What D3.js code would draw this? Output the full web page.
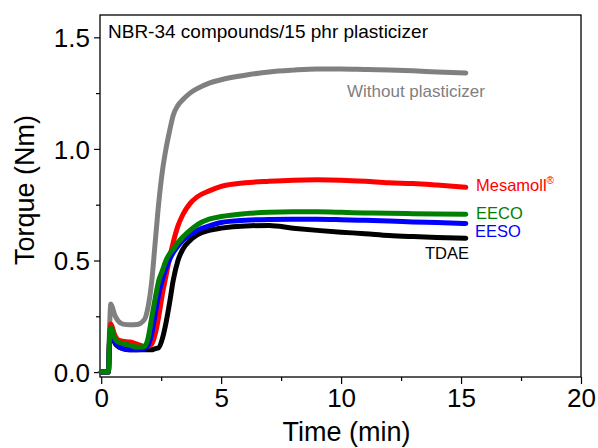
<!DOCTYPE html>
<html>
<head>
<meta charset="utf-8">
<script src="https://cdn.jsdelivr.net/npm/d3@7"></script>
<style>
  body { margin: 0; background: #fff; }
  text { font-family: "Liberation Sans", Arial, sans-serif; }
</style>
</head>
<body>
<svg id="chart" width="598" height="448"></svg>
<script>
// time grid (min) shared by all curves
let times = [0, 0.3, 0.35, 0.4, 0.45, 0.55, 0.7, 0.9, 1.2, 1.5, 1.8, 1.95, 2.1, 2.25, 2.4, 2.55, 2.7, 2.85, 3.0, 3.2, 3.4, 3.7, 4.0, 4.5, 5, 6, 7, 8, 9, 10, 11, 12, 13, 14, 15.2];

// torque (Nm)
let withoutPl = [0, 0, 0.2, 0.305, 0.295, 0.26, 0.23, 0.215, 0.212, 0.213, 0.235, 0.29, 0.40, 0.58, 0.76, 0.90, 1.0, 1.08, 1.15, 1.195, 1.22, 1.25, 1.27, 1.295, 1.31, 1.33, 1.345, 1.353, 1.358, 1.358, 1.356, 1.354, 1.35, 1.345, 1.34];
let tdae = [0, 0, 0.14, 0.18, 0.17, 0.135, 0.115, 0.105, 0.1, 0.1, 0.1, 0.1, 0.1, 0.105, 0.11, 0.15, 0.22, 0.31, 0.41, 0.5, 0.55, 0.59, 0.615, 0.635, 0.645, 0.655, 0.657, 0.645, 0.635, 0.627, 0.62, 0.612, 0.607, 0.603, 0.60];
let mesamoll = [0, 0, 0.15, 0.215, 0.205, 0.17, 0.145, 0.138, 0.135, 0.125, 0.115, 0.115, 0.125, 0.17, 0.25, 0.35, 0.43, 0.51, 0.58, 0.655, 0.705, 0.755, 0.785, 0.812, 0.832, 0.848, 0.855, 0.86, 0.862, 0.86, 0.855, 0.848, 0.845, 0.838, 0.828];
let eeso = [0, 0, 0.15, 0.185, 0.175, 0.14, 0.12, 0.105, 0.1, 0.1, 0.105, 0.12, 0.17, 0.26, 0.35, 0.415, 0.465, 0.505, 0.535, 0.565, 0.59, 0.615, 0.635, 0.655, 0.67, 0.68, 0.684, 0.685, 0.685, 0.683, 0.68, 0.677, 0.673, 0.67, 0.666];
let eeco = [0, 0, 0.17, 0.20, 0.19, 0.155, 0.135, 0.128, 0.12, 0.112, 0.115, 0.15, 0.24, 0.33, 0.41, 0.455, 0.50, 0.53, 0.55, 0.58, 0.605, 0.635, 0.66, 0.685, 0.697, 0.71, 0.716, 0.718, 0.718, 0.716, 0.713, 0.712, 0.71, 0.708, 0.707];

let xTicks = [0, 5, 10, 15, 20];
let yTicks = [0.0, 0.5, 1.0, 1.5];

let series = [
    { name: "Without plasticizer", values: withoutPl, color: "#808080" },
    { name: "TDAE", values: tdae, color: "#000000" },
    { name: "Mesamoll", values: mesamoll, color: "#ff0000" },
    { name: "EESO", values: eeso, color: "#0000ff" },
    { name: "EECO", values: eeco, color: "#008000" }
];

let svg = d3.select("#chart");
let plotL = 100, plotR = 581, plotT = 15, plotB = 377;

let x = d3.scaleLinear().domain([-0.05, 20]).range([plotL, plotR]);
let y = d3.scaleLinear().domain([-0.022, 1.6]).range([plotB, plotT]);

// x axis with minor ticks
let xAxis = svg.append("g").attr("transform", `translate(0,${plotB})`);
xAxis.call(d3.axisBottom(x).tickValues(d3.range(0, 20.1, 2.5)).tickSize(7).tickFormat(d => xTicks.includes(d) ? d : ""));
xAxis.selectAll(".tick line").attr("y2", d => xTicks.includes(d) ? 7 : 4).attr("stroke-width", 1.2);
xAxis.selectAll(".tick text").attr("font-size", 26).attr("y", 10).attr("dy", "0.76em");

let yAxis = svg.append("g").attr("transform", `translate(${plotL},0)`);
yAxis.call(d3.axisLeft(y).tickValues(d3.range(0, 1.6, 0.25)).tickSize(6).tickFormat(d => yTicks.includes(d) ? d3.format(".1f")(d) : ""));
yAxis.selectAll(".tick line").attr("x2", d => yTicks.includes(d) ? -6 : -4).attr("stroke-width", 1.2);
yAxis.selectAll(".tick text").attr("font-size", 26).attr("x", -10).attr("dy", "0.35em");

svg.selectAll(".domain").remove();
svg.selectAll(".tick text").attr("font-family", "Liberation Sans, Arial, sans-serif").attr("fill", "#000");

// frame
svg.append("rect")
    .attr("x", plotL).attr("y", plotT)
    .attr("width", plotR - plotL).attr("height", plotB - plotT)
    .attr("fill", "none").attr("stroke", "#000").attr("stroke-width", 1.3);

// curves
let line = d3.line()
    .x((d, i) => x(times[i]))
    .y(d => y(d))
    .curve(d3.curveMonotoneX);

svg.append("g").selectAll("path")
    .data(series).enter().append("path")
    .attr("d", d => line(d.values))
    .attr("fill", "none")
    .attr("stroke", d => d.color)
    .attr("stroke-width", 5)
    .attr("stroke-linecap", "round")
    .attr("stroke-linejoin", "round");

// labels
svg.append("text").attr("x", 108).attr("y", 38).attr("font-size", 19)
    .text("NBR-34 compounds/15 phr plasticizer");

svg.append("text").attr("x", 347).attr("y", 97).attr("font-size", 17).attr("fill", "#808080")
    .text("Without plasticizer");

let mesa = svg.append("text").attr("x", 476).attr("y", 191).attr("font-size", 16.5).attr("fill", "#ff0000");
mesa.append("tspan").text("Mesamoll");
mesa.append("tspan").attr("font-size", 10).attr("dy", -7).text("®");

svg.append("text").attr("x", 476).attr("y", 219).attr("font-size", 16.5).attr("fill", "#008000").text("EECO");
svg.append("text").attr("x", 475).attr("y", 237).attr("font-size", 16.5).attr("fill", "#0000ff").text("EESO");
svg.append("text").attr("x", 425).attr("y", 259).attr("font-size", 16.5).attr("fill", "#000").text("TDAE");

// axis titles
svg.append("text").attr("x", (plotL + plotR) / 2 + 6).attr("y", 441)
    .attr("text-anchor", "middle").attr("font-size", 27).text("Time (min)");

svg.append("text").attr("transform", `translate(34,${(plotT + plotB) / 2 - 6}) rotate(-90)`)
    .attr("text-anchor", "middle").attr("font-size", 27).text("Torque (Nm)");
</script>
</body>
</html>
